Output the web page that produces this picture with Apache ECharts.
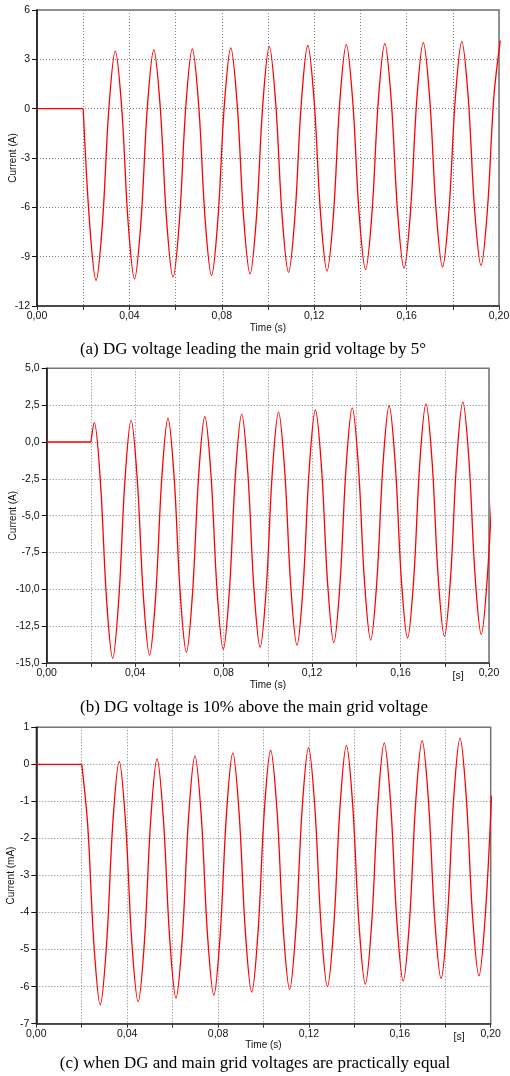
<!DOCTYPE html>
<html><head><meta charset="utf-8">
<script src="https://cdn.jsdelivr.net/npm/echarts@6/dist/echarts.min.js"></script>
<style>html,body{margin:0;padding:0;background:#fff}#c{width:510px;height:1076px}</style>
</head><body><div id="c"></div>
<script>
// ---- Data ----
// flat part before the disturbance (all panels)
const preTime = [0, 0.02];
const preCurrent = [0, 0];

// (a) DG voltage leading the main grid voltage by 5 deg  — current in A
const timeA = [0.02000,0.02278,0.02556,0.02833,0.03111,0.03389,0.03667,0.03944,0.04222,0.04500,0.04778,0.05056,0.05333,0.05611,0.05889,0.06167,0.06444,0.06722,0.07000,0.07278,0.07556,0.07833,0.08111,0.08389,0.08667,0.08944,0.09222,0.09500,0.09778,0.10056,0.10333,0.10611,0.10889,0.11167,0.11444,0.11722,0.12000,0.12278,0.12556,0.12833,0.13111,0.13389,0.13667,0.13944,0.14222,0.14500,0.14778,0.15056,0.15333,0.15611,0.15889,0.16167,0.16444,0.16722,0.17000,0.17278,0.17556,0.17833,0.18111,0.18389,0.18667,0.18944,0.19222,0.19500,0.19778,0.20056];
const currentA = [0,-6.97,-10.45,-6.96,0.01,3.50, 0.04,-6.89,-10.35,-6.87,0.10,3.58, 0.12,-6.79,-10.25,-6.78,0.16,3.63, 0.19,-6.71,-10.15,-6.69,0.24,3.70, 0.26,-6.61,-10.05,-6.60,0.32,3.77, 0.34,-6.53,-9.96,-6.51,0.39,3.84, 0.41,-6.45,-9.88,-6.44,0.46,3.90, 0.48,-6.37,-9.79,-6.36,0.52,3.95, 0.54,-6.29,-9.70,-6.27,0.59,4.02, 0.61,-6.21,-9.62,-6.20,0.66,4.08, 0.68,-6.14,-9.54,-6.12,0.72,4.14];

// (b) DG voltage 10% above the main grid voltage — current in A
const timeB = [0.02000,0.02150,0.02428,0.02706,0.02983,0.03261,0.03539,0.03817,0.04094,0.04372,0.04650,0.04928,0.05206,0.05483,0.05761,0.06039,0.06317,0.06594,0.06872,0.07150,0.07428,0.07706,0.07983,0.08261,0.08539,0.08817,0.09094,0.09372,0.09650,0.09928,0.10206,0.10483,0.10761,0.11039,0.11317,0.11594,0.11872,0.12150,0.12428,0.12706,0.12983,0.13261,0.13539,0.13817,0.14094,0.14372,0.14650,0.14928,0.15206,0.15483,0.15761,0.16039,0.16317,0.16594,0.16872,0.17150,0.17428,0.17706,0.17983,0.18261,0.18539,0.18817,0.19094,0.19372,0.19650,0.19928,0.20206];
const currentB = [0, 1.31,-2.69,-10.68,-14.68,-10.64,-2.57, 1.47,-2.51,-10.48,-14.46,-10.44,-2.41, 1.61,-2.36,-10.30,-14.27,-10.27,-2.27, 1.73,-2.22,-10.12,-14.07,-10.08,-2.10, 1.89,-2.07,-9.98,-13.93,-9.94,-1.97, 2.02,-1.93,-9.84,-13.79,-9.80,-1.82, 2.17,-1.78,-9.67,-13.62,-9.64,-1.67, 2.32,-1.62,-9.51,-13.45,-9.47,-1.52, 2.46,-1.48,-9.37,-13.31,-9.34,-1.39, 2.58,-1.36,-9.25,-13.19,-9.22,-1.27, 2.70,-1.24,-9.12,-13.06,-9.09,-1.15];

// (c) DG and main grid voltages practically equal — current in mA
const timeC = [0.02000,0.02260,0.02537,0.02815,0.03093,0.03371,0.03649,0.03926,0.04204,0.04482,0.04760,0.05037,0.05315,0.05593,0.05871,0.06149,0.06426,0.06704,0.06982,0.07260,0.07537,0.07815,0.08093,0.08371,0.08649,0.08926,0.09204,0.09482,0.09760,0.10037,0.10315,0.10593,0.10871,0.11149,0.11426,0.11704,0.11982,0.12260,0.12537,0.12815,0.13093,0.13371,0.13649,0.13926,0.14204,0.14482,0.14760,0.15037,0.15315,0.15593,0.15871,0.16149,0.16426,0.16704,0.16982,0.17260,0.17537,0.17815,0.18093,0.18371,0.18649,0.18926,0.19204,0.19482,0.19760,0.20037];
const currentC = [0,-1.62,-4.87,-6.49,-4.85,-1.56, 0.08,-1.54,-4.79,-6.41,-4.77,-1.49, 0.15,-1.47,-4.70,-6.31,-4.68,-1.41, 0.23,-1.39,-4.62,-6.23,-4.60,-1.33, 0.31,-1.31,-4.54,-6.15,-4.52,-1.25, 0.38,-1.23,-4.46,-6.07,-4.44,-1.18, 0.45,-1.16,-4.39,-6.00,-4.37,-1.12, 0.51,-1.10,-4.32,-5.93,-4.30,-1.05, 0.58,-1.03,-4.24,-5.85,-4.23,-0.98, 0.64,-0.97,-4.18,-5.78,-4.16,-0.91, 0.71,-0.90,-4.11,-5.71,-4.09,-0.85];

// axis ranges [min, max, interval]
const timeRange = [0, 0.2, 0.02];
const rangeA = [-12, 6, 3];
const rangeB = [-15, 5, 2.5];
const rangeC = [-7, 1, 1];
const yNames = ['Current (A)', 'Current (A)', 'Current (mA)'];
const xName = 'Time (s)';
const captions = [
  '(a) DG voltage leading the main grid voltage by 5\u00B0',
  '(b) DG voltage is 10% above the main grid voltage',
  '(c) when DG and main grid voltages are practically equal'
];

// ---- Chart ----
const SANS = 'Liberation Sans, Arial, sans-serif';
const SERIF = 'Liberation Serif, Times New Roman, serif';
const pair = (xs, ys) => xs.map((x, i) => [x, ys[i]]);
const comma = (s) => s.replace('.', ',');

const grids = [
  {left: 37, top: 10, width: 462, height: 296},
  {left: 46.7, top: 368.3, width: 442.3, height: 294.7},
  {left: 36.3, top: 727.3, width: 454.4, height: 296.4}
].map(g => Object.assign(g, {show: true, borderColor: '#707070', borderWidth: 1.5,
  backgroundColor: 'transparent', containLabel: false, outerBoundsMode: 'none'}));

const splitStyle = {show: true, lineStyle: {type: [1, 2], color: '#808080', width: 1}};

const xAxes = [0, 1, 2].map(i => ({
  type: 'value', gridIndex: i,
  min: timeRange[0], max: timeRange[1], interval: timeRange[2],
  axisLine: {show: true, onZero: false, lineStyle: {color: '#333', width: 1.5}},
  axisTick: {show: true, length: 4, lineStyle: {color: '#333', width: 1}},
  axisLabel: {
    show: true, margin: 5, fontSize: 10.5, color: '#111', fontFamily: SANS,
    showMinLabel: true, showMaxLabel: true, hideOverlap: false,
    formatter: v => (Math.round(v * 100) % 4 === 0 ? comma(v.toFixed(2)) : '')
  },
  splitLine: splitStyle,
  name: xName, nameLocation: 'middle', nameGap: [16, 17, 15][i],
  nameTextStyle: {fontSize: 10, color: '#111', fontFamily: SANS}
}));

const ranges = [rangeA, rangeB, rangeC];
const yFmt = [v => String(v), v => comma(v.toFixed(1)), v => String(v)];
const yAxes = [0, 1, 2].map(i => ({
  type: 'value', gridIndex: i,
  min: ranges[i][0], max: ranges[i][1], interval: ranges[i][2],
  axisLine: {show: true, onZero: false, lineStyle: {color: '#111', width: 1.5}},
  axisTick: {show: true, length: 5, lineStyle: {color: '#111', width: 1}},
  axisLabel: {show: true, margin: 7, fontSize: 10.5, color: '#111', fontFamily: SANS, formatter: yFmt[i],
    showMinLabel: true, showMaxLabel: true, hideOverlap: false},
  splitLine: splitStyle,
  name: yNames[i], nameLocation: 'middle', nameRotate: 90, nameGap: [18.5, 28, 20.5][i],
  nameMoveOverlap: false,
  nameTextStyle: {fontSize: 10, color: '#111', fontFamily: SANS}
}));

const lineBase = {type: 'line', showSymbol: false, symbol: 'none', clip: true, silent: true,
  lineStyle: {color: '#ff0000', width: 1.3}, itemStyle: {color: '#ff0000'}};
const waves = [[timeA, currentA], [timeB, currentB], [timeC, currentC]];
const series = [];
waves.forEach((w, i) => {
  series.push(Object.assign({}, lineBase, {xAxisIndex: i, yAxisIndex: i, smooth: false, data: pair(preTime, preCurrent)}));
  series.push(Object.assign({}, lineBase, {xAxisIndex: i, yAxisIndex: i, smooth: 0.35, data: pair(w[0], w[1])}));
});

const capPos = [[253, 350], [254, 708], [255, 1064]];
const graphic = captions.map((t, i) => ({
  type: 'text', x: capPos[i][0], y: capPos[i][1],
  style: {text: t, font: '17px ' + SERIF, fill: '#000', textAlign: 'center', textVerticalAlign: 'middle'}
}));
[[458, 676], [459, 1037]].forEach(p => graphic.push({
  type: 'text', x: p[0], y: p[1],
  style: {text: '[s]', font: '10.5px ' + SANS, fill: '#111', textAlign: 'center', textVerticalAlign: 'middle'}
}));

const chart = echarts.init(document.getElementById('c'), null, {renderer: 'canvas'});
chart.setOption({
  animation: false,
  backgroundColor: '#fff',
  grid: grids, xAxis: xAxes, yAxis: yAxes, series: series, graphic: graphic
});
</script>
</body></html>
